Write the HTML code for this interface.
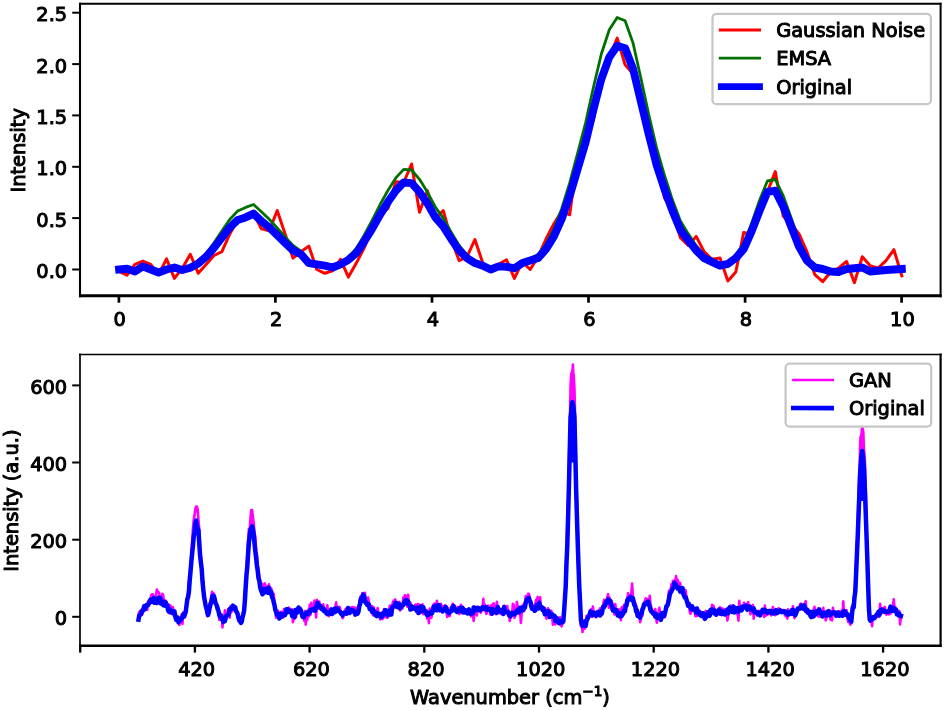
<!DOCTYPE html>
<html lang="en"><head><meta charset="utf-8"><title>Spectra augmentation figure</title>
<style>html,body{margin:0;padding:0;background:#fff;overflow:hidden}svg{display:block;filter:blur(0.45px)}text{font-family:"DejaVu Sans", "Liberation Sans", sans-serif;font-size:19.40px;fill:#000;stroke:#000;stroke-width:1.0px;paint-order:stroke}.sp{fill:none;stroke:#000;stroke-width:2.30}.tk{stroke:#000;stroke-width:2.20}.ln{fill:none;stroke-linejoin:round;stroke-linecap:square}.lg{fill:#fff;fill-opacity:0.8;stroke:#c6c6c6;stroke-width:2.2}</style></head><body>
<svg width="944" height="711" viewBox="0 0 944 711">
<rect x="0" y="0" width="944" height="711" fill="#fff"/>
<defs><clipPath id="c1"><rect x="80.0" y="3.8" width="860.6" height="292.0"/></clipPath><clipPath id="c2"><rect x="80.0" y="354.5" width="860.6" height="291.3"/></clipPath></defs>
<g clip-path="url(#c1)">
<polyline class="ln" stroke="#ff0000" stroke-width="3.0" points="119.1,271.5 127.0,275.1 134.9,264.4 142.8,261.1 150.7,264.4 158.6,274.6 166.5,258.8 174.4,278.4 182.3,268.2 190.3,254.2 198.2,273.3 206.1,264.4 214.0,255.5 221.9,251.7 229.8,233.9 237.7,219.9 245.6,217.4 253.5,213.6 261.4,228.8 269.3,230.8 277.2,210.5 285.1,233.9 293.0,258.1 300.9,251.7 308.8,246.1 316.8,269.5 324.7,273.3 332.6,270.8 340.5,259.3 348.4,277.1 356.3,263.1 364.2,247.9 372.1,228.8 380.0,214.8 387.9,208.5 395.8,181.8 403.7,182.5 411.6,164.0 419.5,212.3 427.4,190.7 435.3,218.6 443.2,210.5 451.2,239.0 459.1,260.6 467.0,256.8 474.9,239.5 482.8,263.1 490.7,269.5 498.6,264.4 506.5,259.8 514.4,278.4 522.3,261.9 530.2,269.5 538.1,256.8 546.0,239.0 553.9,223.7 561.8,211.0 569.7,214.8 577.6,155.1 585.6,142.4 593.5,119.5 601.4,78.8 609.3,57.2 617.2,38.1 625.1,64.8 633.0,73.7 640.9,101.7 648.8,134.7 656.7,165.3 664.6,198.3 672.5,211.0 680.4,237.7 688.3,245.3 696.2,236.4 704.1,251.7 712.0,259.3 720.0,258.1 727.9,280.9 735.8,272.0 743.7,232.6 751.6,233.9 759.5,211.0 767.4,191.9 775.3,171.6 783.2,216.1 791.1,223.7 799.0,233.9 806.9,251.7 814.8,274.6 822.7,281.7 830.6,272.0 838.5,268.2 846.5,261.4 854.4,282.7 862.3,256.8 870.2,265.7 878.1,268.2 886.0,260.6 893.9,249.7 901.8,275.8"/>
<polyline class="ln" stroke="#007000" stroke-width="2.8" points="119.1,269.4 127.0,269.0 134.9,270.9 142.8,266.7 150.7,269.5 158.6,272.2 166.5,269.6 174.4,267.5 182.3,269.5 190.3,267.0 198.2,261.9 206.1,253.5 214.0,242.8 221.9,230.9 229.8,219.4 237.7,211.0 245.6,207.4 253.5,204.5 261.4,211.7 269.3,219.3 277.2,227.9 285.1,236.9 293.0,245.5 300.9,251.2 308.8,260.6 316.8,263.1 324.7,264.8 332.6,266.3 340.5,263.0 348.4,257.2 356.3,248.5 364.2,235.2 372.1,220.4 380.0,204.8 387.9,190.5 395.8,177.9 403.7,169.4 411.6,170.0 419.5,179.3 427.4,192.1 435.3,207.0 443.2,218.1 451.2,232.2 459.1,245.5 467.0,255.0 474.9,261.3 482.8,264.9 490.7,268.6 498.6,266.1 506.5,266.4 514.4,267.1 522.3,261.9 530.2,258.4 538.1,254.5 546.0,244.0 553.9,228.8 561.8,208.4 569.7,182.8 577.6,153.4 585.6,122.9 593.5,87.1 601.4,53.8 609.3,29.8 617.2,17.5 625.1,20.7 633.0,42.9 640.9,78.3 648.8,114.9 656.7,148.5 664.6,175.8 672.5,200.1 680.4,221.0 688.3,233.9 696.2,245.7 704.1,254.8 712.0,260.0 720.0,264.0 727.9,262.0 735.8,254.9 743.7,243.4 751.6,223.2 759.5,200.5 767.4,181.0 775.3,179.5 783.2,195.7 791.1,217.7 799.0,240.6 806.9,257.5 814.8,266.3 822.7,269.0 830.6,271.5 838.5,271.9 846.5,269.1 854.4,267.9 862.3,267.6 870.2,271.2 878.1,270.9 886.0,270.1 893.9,269.5 901.8,268.9"/>
<polyline class="ln" stroke="#0000ff" stroke-width="7.9" points="119.1,269.5 127.0,268.7 134.9,271.5 142.8,266.4 150.7,269.5 158.6,272.5 166.5,269.5 174.4,267.5 182.3,270.0 190.3,267.7 198.2,263.6 206.1,256.8 214.0,247.9 221.9,237.7 229.8,227.5 237.7,219.9 245.6,217.4 253.5,213.6 261.4,221.2 269.3,227.5 277.2,235.2 285.1,242.8 293.0,250.4 300.9,254.2 308.8,263.1 316.8,264.4 324.7,265.7 332.6,267.5 340.5,264.4 348.4,259.8 356.3,253.0 364.2,241.5 372.1,228.8 380.0,214.8 387.9,202.1 395.8,190.7 403.7,182.5 411.6,183.1 419.5,191.9 427.4,203.4 435.3,217.4 443.2,226.3 451.2,239.0 459.1,250.4 467.0,258.1 474.9,263.1 482.8,265.7 490.7,269.5 498.6,266.4 506.5,266.9 514.4,268.2 522.3,263.1 530.2,260.6 538.1,258.1 546.0,249.2 553.9,236.4 561.8,218.6 569.7,195.8 577.6,169.1 585.6,142.4 593.5,109.3 601.4,78.8 609.3,57.2 617.2,45.8 625.1,48.3 633.0,68.6 640.9,101.7 648.8,134.7 656.7,165.3 664.6,189.4 672.5,211.0 680.4,230.1 688.3,240.3 696.2,250.4 704.1,258.1 712.0,261.9 720.0,265.7 727.9,263.9 735.8,258.1 743.7,249.2 751.6,231.4 759.5,211.0 767.4,191.9 775.3,190.7 783.2,206.4 791.1,226.3 799.0,246.6 806.9,260.6 814.8,267.5 822.7,269.0 830.6,271.5 838.5,272.0 846.5,269.0 854.4,268.2 862.3,267.5 870.2,271.5 878.1,270.8 886.0,270.0 893.9,269.5 901.8,269.0"/>
</g>
<line class="tk" style="stroke-width:2.7" x1="118.9" y1="295.8" x2="118.9" y2="302.7"/>
<text x="119.7" y="325.6" text-anchor="middle">0</text>
<line class="tk" style="stroke-width:2.7" x1="275.4" y1="295.8" x2="275.4" y2="302.7"/>
<text x="276.2" y="325.6" text-anchor="middle">2</text>
<line class="tk" style="stroke-width:2.7" x1="432.0" y1="295.8" x2="432.0" y2="302.7"/>
<text x="432.8" y="325.6" text-anchor="middle">4</text>
<line class="tk" style="stroke-width:2.7" x1="588.5" y1="295.8" x2="588.5" y2="302.7"/>
<text x="589.3" y="325.6" text-anchor="middle">6</text>
<line class="tk" style="stroke-width:2.7" x1="745.1" y1="295.8" x2="745.1" y2="302.7"/>
<text x="745.9" y="325.6" text-anchor="middle">8</text>
<line class="tk" style="stroke-width:2.7" x1="901.6" y1="295.8" x2="901.6" y2="302.7"/>
<text x="902.4" y="325.6" text-anchor="middle">10</text>
<line class="tk" style="stroke-width:2.0" x1="72.2" y1="269.5" x2="80.0" y2="269.5"/>
<text x="67.2" y="278.1" text-anchor="end">0.0</text>
<line class="tk" style="stroke-width:2.0" x1="72.2" y1="218.1" x2="80.0" y2="218.1"/>
<text x="67.2" y="226.7" text-anchor="end">0.5</text>
<line class="tk" style="stroke-width:2.0" x1="72.2" y1="166.8" x2="80.0" y2="166.8"/>
<text x="67.2" y="175.4" text-anchor="end">1.0</text>
<line class="tk" style="stroke-width:2.0" x1="72.2" y1="115.4" x2="80.0" y2="115.4"/>
<text x="67.2" y="124.0" text-anchor="end">1.5</text>
<line class="tk" style="stroke-width:2.0" x1="72.2" y1="64.1" x2="80.0" y2="64.1"/>
<text x="67.2" y="72.7" text-anchor="end">2.0</text>
<line class="tk" style="stroke-width:2.0" x1="72.2" y1="12.7" x2="80.0" y2="12.7"/>
<text x="67.2" y="21.3" text-anchor="end">2.5</text>
<line stroke="#000" stroke-width="2.1" x1="80.0" y1="2.8" x2="80.0" y2="297.2"/>
<line stroke="#000" stroke-width="2.0" x1="940.6" y1="2.8" x2="940.6" y2="297.2"/>
<line stroke="#000" stroke-width="2.1" x1="79.0" y1="3.8" x2="941.6" y2="3.8"/>
<line stroke="#000" stroke-width="2.9" x1="79.0" y1="295.8" x2="941.6" y2="295.8"/>
<text transform="translate(25.3,150.3) rotate(-90)" text-anchor="middle">Intensity</text>
<rect class="lg" x="712.5" y="13.8" width="218.4" height="90.4" rx="4" ry="4"/>
<line x1="718.8" y1="30.1" x2="761" y2="30.1" stroke="#ff0000" stroke-width="3.0"/>
<line x1="718.8" y1="58.2" x2="761" y2="58.2" stroke="#007000" stroke-width="2.8"/>
<line x1="717.9" y1="86.6" x2="762.9" y2="86.6" stroke="#0000ff" stroke-width="6.6"/>
<text x="776.2" y="37.2">Gaussian Noise</text>
<text x="776.2" y="65.4">EMSA</text>
<text x="776.2" y="93.6">Original</text>
<g clip-path="url(#c2)">
<polygon fill="#ff00ff" points="569.5,439.7 570.1,409.6 570.6,387.9 571.7,375.0 572.5,370.2 573.3,375.0 574.4,387.9 574.9,409.6 575.5,439.7"/>
<polygon fill="#ff00ff" points="193.7,520.1 194.5,515.6 195.3,509.4 196.1,506.5 196.9,506.5 197.7,509.6"/>
<polygon fill="#ff00ff" points="249.7,529.8 250.5,518.0 251.3,510.0 252.1,510.1 252.9,517.2 253.7,523.2"/>
<polygon fill="#ff00ff" points="859.1,483.7 859.6,468.2 860.5,444.7 861.5,430.5 862.2,426.1 862.9,430.5 863.9,444.7 864.8,468.2 865.3,483.7"/>
<polyline class="ln" stroke="#ff00ff" stroke-width="2.6" points="138.5,614.6 139.3,612.1 140.1,610.9 140.9,612.7 141.7,609.6 142.5,614.2 143.3,606.9 144.1,605.4 144.9,607.5 145.7,609.3 146.5,604.3 147.3,609.9 148.1,601.1 148.9,600.3 149.7,603.5 150.5,599.3 151.3,595.0 152.1,594.4 152.9,594.4 153.7,598.1 154.5,598.6 155.3,598.7 156.1,595.4 156.9,589.5 157.7,592.5 158.5,592.1 159.3,593.6 160.1,604.0 160.9,600.0 161.7,601.4 162.5,593.7 163.3,595.8 164.1,604.2 164.9,602.7 165.7,600.7 166.5,606.3 167.3,607.7 168.1,608.8 168.9,604.6 169.7,613.5 170.5,605.6 171.3,609.8 172.1,608.8 172.9,607.1 173.7,615.3 174.5,616.7 175.3,613.7 176.1,619.7 176.9,619.9 177.7,619.0 178.5,619.3 179.3,625.0 180.1,622.4 180.9,618.0 181.7,614.4 182.5,624.0 183.3,612.2 184.1,612.4 184.9,617.4 185.7,614.0 186.5,603.1 187.3,601.2 188.1,593.4 188.9,581.8 189.7,577.3 190.5,565.3 191.3,554.0 192.1,542.4 192.9,529.3 193.7,520.1 194.5,515.6 195.3,509.4 196.1,506.5 196.9,506.5 197.7,509.6 198.5,520.7 199.3,529.5 200.1,546.4 200.9,555.7 201.7,568.8 202.5,575.9 203.3,583.3 204.1,597.8 204.9,603.5 205.7,604.7 206.5,612.4 207.3,616.3 208.1,615.1 208.9,613.3 209.7,602.9 210.5,604.6 211.3,595.6 212.1,591.8 212.9,596.1 213.7,593.4 214.5,596.5 215.3,600.1 216.1,601.5 216.9,605.4 217.7,606.5 218.5,608.2 219.3,620.0 220.1,617.6 220.9,616.0 221.7,614.7 222.5,627.4 223.3,616.1 224.1,620.7 224.9,610.3 225.7,618.9 226.5,618.9 227.3,614.5 228.1,609.3 228.9,611.5 229.7,617.7 230.5,606.2 231.3,612.5 232.1,609.3 232.9,608.7 233.7,610.0 234.5,609.9 235.3,610.8 236.1,611.3 236.9,611.3 237.7,615.0 238.5,621.5 239.3,620.1 240.1,617.8 240.9,619.1 241.7,621.8 242.5,616.5 243.3,611.9 244.1,606.2 244.9,591.8 245.7,585.1 246.5,572.1 247.3,553.5 248.1,540.7 248.9,528.7 249.7,529.8 250.5,518.0 251.3,510.0 252.1,510.1 252.9,517.2 253.7,523.2 254.5,532.6 255.3,536.6 256.1,550.2 256.9,554.1 257.7,564.0 258.5,570.8 259.3,576.2 260.1,581.9 260.9,587.7 261.7,583.6 262.5,585.2 263.3,587.9 264.1,584.3 264.9,583.4 265.7,590.2 266.5,586.6 267.3,587.0 268.1,590.4 268.9,584.4 269.7,589.4 270.5,589.3 271.3,588.4 272.1,592.1 272.9,596.3 273.7,593.9 274.5,606.5 275.3,607.0 276.1,617.6 276.9,611.1 277.7,610.7 278.5,612.3 279.3,619.0 280.1,617.3 280.9,611.8 281.7,615.7 282.5,611.8 283.3,617.4 284.1,609.0 284.9,609.4 285.7,610.5 286.5,613.9 287.3,611.1 288.1,609.3 288.9,607.7 289.7,609.0 290.5,610.6 291.3,611.2 292.1,609.2 292.9,622.2 293.7,619.1 294.5,618.6 295.3,614.7 296.1,617.1 296.9,608.7 297.7,609.4 298.5,609.8 299.3,610.7 300.1,609.6 300.9,611.3 301.7,612.6 302.5,617.8 303.3,614.3 304.1,620.6 304.9,611.0 305.7,624.6 306.5,615.8 307.3,619.9 308.1,609.8 308.9,616.4 309.7,604.8 310.5,615.0 311.3,602.8 312.1,607.5 312.9,608.5 313.7,606.7 314.5,600.5 315.3,603.5 316.1,617.5 316.9,599.9 317.7,601.8 318.5,608.5 319.3,601.6 320.1,609.0 320.9,605.4 321.7,605.8 322.5,609.3 323.3,604.2 324.1,611.8 324.9,608.5 325.7,611.7 326.5,611.3 327.3,605.2 328.1,612.0 328.9,616.1 329.7,612.6 330.5,614.5 331.3,611.5 332.1,610.8 332.9,610.3 333.7,609.9 334.5,611.3 335.3,607.4 336.1,602.4 336.9,610.9 337.7,609.7 338.5,609.9 339.3,606.7 340.1,607.9 340.9,614.4 341.7,612.2 342.5,618.2 343.3,617.0 344.1,613.7 344.9,610.8 345.7,608.8 346.5,612.7 347.3,614.5 348.1,608.5 348.9,610.3 349.7,608.4 350.5,609.2 351.3,607.4 352.1,607.6 352.9,607.0 353.7,611.3 354.5,607.4 355.3,613.4 356.1,612.4 356.9,607.8 357.7,610.8 358.5,612.7 359.3,600.9 360.1,599.4 360.9,596.1 361.7,596.4 362.5,593.1 363.3,595.4 364.1,598.5 364.9,592.7 365.7,600.5 366.5,602.3 367.3,603.6 368.1,597.5 368.9,602.1 369.7,607.3 370.5,607.1 371.3,606.3 372.1,606.0 372.9,615.1 373.7,607.4 374.5,611.7 375.3,613.9 376.1,613.5 376.9,610.4 377.7,608.1 378.5,614.3 379.3,613.9 380.1,619.4 380.9,615.0 381.7,612.6 382.5,619.0 383.3,614.5 384.1,609.0 384.9,617.2 385.7,613.0 386.5,610.1 387.3,617.9 388.1,614.0 388.9,611.7 389.7,605.9 390.5,614.2 391.3,605.4 392.1,606.9 392.9,602.2 393.7,600.5 394.5,601.5 395.3,599.4 396.1,607.8 396.9,607.7 397.7,607.7 398.5,606.4 399.3,601.9 400.1,610.5 400.9,605.4 401.7,608.3 402.5,608.5 403.3,597.6 404.1,601.2 404.9,595.2 405.7,595.8 406.5,603.0 407.3,606.8 408.1,594.7 408.9,603.6 409.7,610.0 410.5,602.8 411.3,606.1 412.1,610.1 412.9,609.2 413.7,607.2 414.5,607.2 415.3,604.6 416.1,608.0 416.9,608.2 417.7,604.1 418.5,606.7 419.3,604.5 420.1,609.2 420.9,609.0 421.7,612.8 422.5,604.4 423.3,614.2 424.1,609.5 424.9,613.9 425.7,610.7 426.5,610.1 427.3,618.7 428.1,614.2 428.9,623.1 429.7,608.5 430.5,614.4 431.3,617.9 432.1,613.9 432.9,606.0 433.7,604.2 434.5,603.7 435.3,609.3 436.1,606.9 436.9,600.7 437.7,608.1 438.5,606.4 439.3,611.4 440.1,610.7 440.9,603.7 441.7,606.3 442.5,606.4 443.3,606.2 444.1,606.5 444.9,605.4 445.7,610.8 446.5,612.1 447.3,617.0 448.1,608.0 448.9,614.6 449.7,616.0 450.5,610.9 451.3,608.9 452.1,605.2 452.9,603.6 453.7,609.5 454.5,610.0 455.3,608.8 456.1,612.0 456.9,608.7 457.7,606.9 458.5,608.4 459.3,614.0 460.1,612.7 460.9,604.7 461.7,612.5 462.5,606.9 463.3,607.4 464.1,610.8 464.9,613.1 465.7,609.4 466.5,613.2 467.3,611.0 468.1,610.3 468.9,613.4 469.7,612.2 470.5,612.9 471.3,616.4 472.1,613.3 472.9,613.8 473.7,621.0 474.5,611.0 475.3,609.9 476.1,611.8 476.9,615.5 477.7,606.5 478.5,607.1 479.3,607.5 480.1,608.3 480.9,612.6 481.7,607.3 482.5,609.9 483.3,598.9 484.1,607.9 484.9,604.4 485.7,612.0 486.5,613.9 487.3,609.5 488.1,605.6 488.9,606.4 489.7,607.5 490.5,614.8 491.3,605.2 492.1,612.1 492.9,604.0 493.7,603.4 494.5,607.0 495.3,606.6 496.1,614.2 496.9,601.8 497.7,609.7 498.5,607.3 499.3,613.3 500.1,610.5 500.9,614.0 501.7,610.7 502.5,609.7 503.3,609.2 504.1,605.8 504.9,609.1 505.7,610.2 506.5,611.3 507.3,606.0 508.1,615.6 508.9,610.9 509.7,621.0 510.5,617.2 511.3,612.7 512.1,614.3 512.9,603.7 513.7,604.7 514.5,617.8 515.3,615.9 516.1,612.5 516.9,601.8 517.7,607.0 518.5,608.9 519.3,613.9 520.1,611.3 520.9,623.0 521.7,612.8 522.5,606.0 523.3,604.5 524.1,611.1 524.9,603.8 525.7,596.1 526.5,598.1 527.3,598.0 528.1,593.9 528.9,593.8 529.7,597.8 530.5,602.4 531.3,604.6 532.1,605.2 532.9,609.6 533.7,605.2 534.5,605.6 535.3,603.8 536.1,599.7 536.9,600.1 537.7,596.9 538.5,603.1 539.3,604.5 540.1,597.2 540.9,608.0 541.7,608.9 542.5,610.8 543.3,608.4 544.1,608.9 544.9,608.1 545.7,613.4 546.5,618.7 547.3,612.3 548.1,608.2 548.9,613.8 549.7,614.7 550.5,613.1 551.3,610.8 552.1,616.4 552.9,624.7 553.7,619.2 554.5,618.6 555.3,624.5 556.1,616.7 556.9,622.4 557.7,618.8 558.5,620.5 559.3,622.8 560.1,617.0 560.9,624.8 561.7,626.4 562.5,621.3 563.3,619.0 564.1,612.1 564.9,601.3 565.7,579.1 566.5,554.4 567.3,524.6 568.1,501.8 568.9,466.5 569.7,428.6 570.1,411.4 570.6,384.2 571.3,373.6 571.7,374.8 572.1,371.2 572.5,370.3 572.9,364.6 573.3,373.5 573.7,374.5 574.4,387.3 574.9,406.3 575.3,428.8 576.1,474.9 576.9,500.3 577.7,529.7 578.5,563.2 579.3,581.9 580.1,605.0 580.9,626.0 581.7,625.5 582.5,632.0 583.3,623.9 584.1,621.1 584.9,628.8 585.7,623.0 586.5,615.8 587.3,617.7 588.1,617.9 588.9,617.4 589.7,612.2 590.5,611.5 591.3,609.1 592.1,616.9 592.9,606.6 593.7,614.7 594.5,611.4 595.3,615.7 596.1,617.4 596.9,616.1 597.7,615.9 598.5,613.7 599.3,610.0 600.1,608.3 600.9,610.9 601.7,612.7 602.5,609.9 603.3,604.0 604.1,599.7 604.9,602.0 605.7,600.3 606.5,601.3 607.3,597.2 608.1,594.1 608.9,607.7 609.7,597.8 610.5,602.0 611.3,609.3 612.1,602.8 612.9,606.2 613.7,606.9 614.5,614.5 615.3,604.1 616.1,611.8 616.9,614.3 617.7,609.2 618.5,612.5 619.3,609.5 620.1,609.9 620.9,620.1 621.7,607.4 622.5,613.9 623.3,610.0 624.1,604.7 624.9,611.1 625.7,605.2 626.5,600.0 627.3,598.9 628.1,593.4 628.9,600.6 629.7,598.5 630.5,597.6 631.3,593.1 632.1,583.6 632.9,596.6 633.7,599.5 634.5,602.4 635.3,602.7 636.1,607.3 636.9,615.7 637.7,609.9 638.5,614.6 639.3,613.2 640.1,622.2 640.9,618.8 641.7,609.7 642.5,615.6 643.3,605.2 644.1,603.5 644.9,601.3 645.7,598.3 646.5,599.1 647.3,598.9 648.1,602.2 648.9,603.2 649.7,595.8 650.5,604.0 651.3,607.9 652.1,609.5 652.9,614.1 653.7,612.0 654.5,614.4 655.3,609.1 656.1,617.6 656.9,622.7 657.7,617.1 658.5,613.3 659.3,607.9 660.1,613.1 660.9,620.1 661.7,617.9 662.5,618.5 663.3,614.8 664.1,615.9 664.9,617.1 665.7,607.9 666.5,605.8 667.3,604.2 668.1,599.6 668.9,590.9 669.7,593.7 670.5,591.8 671.3,584.2 672.1,590.3 672.9,580.9 673.7,584.4 674.5,583.0 675.3,580.4 676.1,576.0 676.9,584.7 677.7,579.8 678.5,582.6 679.3,589.3 680.1,582.7 680.9,589.3 681.7,592.4 682.5,591.3 683.3,593.9 684.1,589.1 684.9,594.9 685.7,590.4 686.5,597.4 687.3,603.3 688.1,607.0 688.9,603.0 689.7,611.9 690.5,613.8 691.3,610.0 692.1,605.3 692.9,607.1 693.7,607.9 694.5,609.1 695.3,616.1 696.1,610.7 696.9,616.0 697.7,608.1 698.5,611.4 699.3,612.2 700.1,611.1 700.9,611.9 701.7,612.6 702.5,612.7 703.3,616.2 704.1,619.1 704.9,613.3 705.7,610.9 706.5,611.9 707.3,615.3 708.1,611.9 708.9,614.8 709.7,611.4 710.5,614.3 711.3,611.4 712.1,604.8 712.9,608.4 713.7,605.9 714.5,613.7 715.3,613.9 716.1,612.2 716.9,610.7 717.7,613.7 718.5,608.9 719.3,613.8 720.1,607.2 720.9,608.2 721.7,615.1 722.5,608.5 723.3,612.8 724.1,609.1 724.9,614.5 725.7,611.3 726.5,610.1 727.3,620.5 728.1,617.2 728.9,610.1 729.7,610.1 730.5,605.5 731.3,607.3 732.1,611.4 732.9,605.2 733.7,609.9 734.5,608.6 735.3,610.0 736.1,607.6 736.9,613.4 737.7,614.7 738.5,620.6 739.3,600.9 740.1,611.0 740.9,610.0 741.7,610.3 742.5,608.0 743.3,606.7 744.1,602.8 744.9,604.4 745.7,604.2 746.5,608.8 747.3,606.0 748.1,602.1 748.9,606.7 749.7,606.1 750.5,614.3 751.3,606.4 752.1,607.7 752.9,604.9 753.7,618.6 754.5,610.0 755.3,611.0 756.1,610.9 756.9,613.9 757.7,611.8 758.5,610.8 759.3,613.5 760.1,614.1 760.9,613.3 761.7,613.4 762.5,611.5 763.3,613.5 764.1,617.0 764.9,605.5 765.7,615.8 766.5,610.9 767.3,614.7 768.1,611.5 768.9,613.9 769.7,611.0 770.5,613.8 771.3,615.4 772.1,610.2 772.9,607.0 773.7,610.4 774.5,611.3 775.3,615.2 776.1,612.2 776.9,610.4 777.7,613.7 778.5,608.4 779.3,611.2 780.1,609.0 780.9,612.5 781.7,612.6 782.5,610.4 783.3,610.0 784.1,610.3 784.9,615.0 785.7,616.2 786.5,612.4 787.3,618.7 788.1,609.4 788.9,611.6 789.7,612.3 790.5,614.6 791.3,609.4 792.1,613.1 792.9,606.3 793.7,611.6 794.5,618.2 795.3,611.3 796.1,614.5 796.9,613.1 797.7,610.8 798.5,609.0 799.3,606.9 800.1,604.3 800.9,603.6 801.7,607.5 802.5,609.6 803.3,608.1 804.1,604.5 804.9,603.2 805.7,601.1 806.5,612.8 807.3,609.5 808.1,611.9 808.9,613.3 809.7,612.1 810.5,614.0 811.3,614.7 812.1,616.5 812.9,612.3 813.7,609.4 814.5,606.8 815.3,613.1 816.1,614.4 816.9,612.0 817.7,616.2 818.5,608.3 819.3,616.6 820.1,611.9 820.9,616.7 821.7,613.7 822.5,612.1 823.3,607.9 824.1,615.3 824.9,612.0 825.7,620.3 826.5,617.6 827.3,616.5 828.1,615.6 828.9,612.7 829.7,612.1 830.5,619.6 831.3,611.5 832.1,620.4 832.9,607.7 833.7,612.4 834.5,612.6 835.3,613.6 836.1,613.5 836.9,613.4 837.7,615.8 838.5,611.3 839.3,612.3 840.1,611.1 840.9,613.5 841.7,610.9 842.5,615.4 843.3,601.4 844.1,615.6 844.9,614.9 845.7,610.5 846.5,610.0 847.3,617.7 848.1,621.7 848.9,621.9 849.7,622.9 850.5,624.6 851.3,621.0 852.1,610.8 852.9,604.2 853.7,603.4 854.5,593.2 855.3,583.8 856.1,563.5 856.9,546.2 857.7,525.2 858.5,496.6 859.3,470.4 859.6,468.2 860.1,446.9 860.5,437.0 860.9,437.8 861.5,433.4 862.2,427.0 862.9,429.5 863.3,432.3 863.9,448.2 864.8,458.5 865.7,488.1 866.5,524.2 867.3,555.5 868.1,578.3 868.9,601.4 869.7,613.3 870.5,619.8 871.3,621.0 872.1,626.3 872.9,616.7 873.7,616.2 874.5,618.8 875.3,615.6 876.1,614.5 876.9,614.6 877.7,617.0 878.5,611.5 879.3,616.6 880.1,603.7 880.9,613.7 881.7,608.7 882.5,612.2 883.3,608.0 884.1,609.5 884.9,606.9 885.7,613.6 886.5,614.6 887.3,610.5 888.1,611.1 888.9,614.5 889.7,611.2 890.5,613.8 891.3,607.3 892.1,608.3 892.9,607.4 893.7,599.3 894.5,607.7 895.3,607.5 896.1,607.9 896.9,611.8 897.7,614.5 898.5,611.0 899.3,611.0 900.1,624.5 900.9,616.0"/>
<polygon fill="#0000ff" points="569.5,462.5 570.1,436.3 570.6,417.4 571.7,406.2 572.5,402.0 573.3,406.2 574.4,417.4 574.9,436.3 575.5,462.5"/>
<polygon fill="#0000ff" points="194.5,532.9 195.3,523.5 196.1,520.5 196.9,525.4"/>
<polygon fill="#0000ff" points="250.5,530.3 251.3,527.9 252.1,526.4 252.9,529.7"/>
<polygon fill="#0000ff" points="859.1,501.1 859.6,487.6 860.5,467.1 861.5,454.8 862.2,450.9 862.9,454.8 863.9,467.1 864.8,487.6 865.3,501.1"/>
<polyline class="ln" stroke="#0000ff" stroke-width="4.5" points="138.5,619.7 139.3,615.3 140.1,615.0 140.9,614.4 141.7,611.3 142.5,611.3 143.3,610.1 144.1,606.2 144.9,609.3 145.7,607.6 146.5,604.9 147.3,604.8 148.1,605.1 148.9,603.1 149.7,602.3 150.5,599.6 151.3,601.9 152.1,600.7 152.9,600.9 153.7,598.0 154.5,602.8 155.3,600.4 156.1,599.5 156.9,603.1 157.7,599.8 158.5,597.8 159.3,600.0 160.1,597.7 160.9,603.4 161.7,601.8 162.5,601.8 163.3,605.2 164.1,601.6 164.9,605.6 165.7,602.4 166.5,605.4 167.3,605.3 168.1,610.3 168.9,611.6 169.7,609.1 170.5,611.7 171.3,610.9 172.1,612.9 172.9,611.6 173.7,611.0 174.5,611.6 175.3,616.0 176.1,619.9 176.9,617.8 177.7,617.6 178.5,622.3 179.3,620.7 180.1,620.6 180.9,619.9 181.7,618.3 182.5,617.0 183.3,614.3 184.1,616.3 184.9,614.1 185.7,612.1 186.5,605.7 187.3,599.3 188.1,597.0 188.9,591.8 189.7,580.5 190.5,571.7 191.3,562.4 192.1,553.8 192.9,546.2 193.7,536.8 194.5,532.9 195.3,523.5 196.1,520.5 196.9,525.4 197.7,528.3 198.5,530.9 199.3,544.6 200.1,555.4 200.9,562.7 201.7,569.1 202.5,581.3 203.3,589.6 204.1,596.9 204.9,601.4 205.7,605.9 206.5,608.6 207.3,612.4 208.1,615.0 208.9,612.2 209.7,607.7 210.5,604.4 211.3,601.8 212.1,597.9 212.9,595.5 213.7,595.8 214.5,598.0 215.3,602.8 216.1,604.1 216.9,605.8 217.7,609.2 218.5,611.0 219.3,614.9 220.1,616.9 220.9,615.3 221.7,619.1 222.5,618.2 223.3,622.0 224.1,619.9 224.9,621.2 225.7,616.7 226.5,615.8 227.3,615.4 228.1,615.3 228.9,613.2 229.7,609.1 230.5,609.9 231.3,608.6 232.1,606.9 232.9,605.6 233.7,608.5 234.5,606.7 235.3,607.6 236.1,611.4 236.9,612.1 237.7,614.2 238.5,617.9 239.3,619.8 240.1,621.0 240.9,622.9 241.7,621.9 242.5,617.3 243.3,614.5 244.1,610.8 244.9,600.5 245.7,587.0 246.5,574.8 247.3,566.8 248.1,553.8 248.9,542.5 249.7,536.1 250.5,530.3 251.3,527.9 252.1,526.4 252.9,529.7 253.7,534.7 254.5,543.3 255.3,551.2 256.1,557.5 256.9,565.5 257.7,570.7 258.5,578.3 259.3,580.5 260.1,586.8 260.9,589.8 261.7,592.0 262.5,594.3 263.3,588.9 264.1,592.2 264.9,592.5 265.7,591.9 266.5,588.7 267.3,590.6 268.1,592.7 268.9,587.6 269.7,591.7 270.5,593.7 271.3,592.0 272.1,597.5 272.9,598.4 273.7,602.1 274.5,605.2 275.3,609.9 276.1,611.6 276.9,614.8 277.7,613.4 278.5,616.1 279.3,618.4 280.1,617.3 280.9,614.0 281.7,616.7 282.5,614.5 283.3,615.2 284.1,614.4 284.9,615.2 285.7,612.9 286.5,609.2 287.3,609.3 288.1,612.0 288.9,609.8 289.7,611.4 290.5,611.3 291.3,611.4 292.1,615.9 292.9,614.6 293.7,611.7 294.5,617.2 295.3,610.1 296.1,613.2 296.9,612.8 297.7,610.9 298.5,607.5 299.3,611.2 300.1,608.9 300.9,610.5 301.7,613.5 302.5,616.8 303.3,616.9 304.1,617.2 304.9,614.7 305.7,614.6 306.5,612.5 307.3,613.2 308.1,613.9 308.9,611.8 309.7,612.3 310.5,610.0 311.3,609.6 312.1,610.2 312.9,609.4 313.7,610.3 314.5,609.2 315.3,610.6 316.1,606.4 316.9,605.3 317.7,602.9 318.5,605.1 319.3,607.0 320.1,605.6 320.9,607.4 321.7,609.1 322.5,608.4 323.3,608.3 324.1,611.1 324.9,610.4 325.7,611.5 326.5,613.4 327.3,614.1 328.1,612.4 328.9,612.3 329.7,613.3 330.5,612.4 331.3,609.4 332.1,614.1 332.9,611.7 333.7,612.2 334.5,608.7 335.3,612.0 336.1,608.6 336.9,609.9 337.7,608.4 338.5,610.8 339.3,611.3 340.1,611.9 340.9,613.4 341.7,613.3 342.5,615.3 343.3,613.6 344.1,612.7 344.9,613.4 345.7,613.6 346.5,613.7 347.3,612.3 348.1,608.0 348.9,611.3 349.7,613.0 350.5,610.9 351.3,610.0 352.1,611.2 352.9,610.0 353.7,611.8 354.5,611.5 355.3,614.6 356.1,614.2 356.9,613.2 357.7,613.6 358.5,611.4 359.3,606.4 360.1,604.0 360.9,598.6 361.7,601.2 362.5,596.5 363.3,594.5 364.1,596.4 364.9,600.1 365.7,602.9 366.5,602.9 367.3,605.0 368.1,603.8 368.9,604.6 369.7,609.0 370.5,609.1 371.3,609.1 372.1,612.0 372.9,609.3 373.7,610.7 374.5,613.4 375.3,615.2 376.1,612.9 376.9,616.1 377.7,613.4 378.5,615.6 379.3,615.6 380.1,614.2 380.9,617.0 381.7,617.0 382.5,614.2 383.3,613.3 384.1,614.5 384.9,610.3 385.7,610.2 386.5,611.7 387.3,611.2 388.1,615.4 388.9,613.0 389.7,610.4 390.5,610.0 391.3,614.6 392.1,608.3 392.9,606.5 393.7,606.6 394.5,605.6 395.3,603.5 396.1,602.8 396.9,603.4 397.7,607.1 398.5,606.8 399.3,604.1 400.1,608.2 400.9,607.3 401.7,605.4 402.5,604.9 403.3,604.9 404.1,602.6 404.9,600.8 405.7,602.6 406.5,600.1 407.3,603.6 408.1,601.4 408.9,604.2 409.7,605.3 410.5,609.5 411.3,606.3 412.1,607.0 412.9,608.3 413.7,607.3 414.5,607.8 415.3,609.1 416.1,609.4 416.9,611.1 417.7,607.6 418.5,613.1 419.3,612.4 420.1,609.2 420.9,606.3 421.7,610.0 422.5,610.5 423.3,607.1 424.1,611.2 424.9,611.5 425.7,611.3 426.5,614.1 427.3,615.4 428.1,613.2 428.9,614.2 429.7,612.6 430.5,612.3 431.3,613.4 432.1,613.1 432.9,610.4 433.7,606.7 434.5,610.0 435.3,605.7 436.1,608.1 436.9,610.3 437.7,607.2 438.5,605.1 439.3,605.4 440.1,610.1 440.9,608.9 441.7,610.4 442.5,611.4 443.3,610.4 444.1,610.4 444.9,609.8 445.7,606.8 446.5,609.5 447.3,611.9 448.1,612.0 448.9,613.1 449.7,611.7 450.5,611.3 451.3,611.3 452.1,607.8 452.9,607.9 453.7,606.0 454.5,610.2 455.3,609.1 456.1,610.0 456.9,611.9 457.7,611.3 458.5,609.6 459.3,611.0 460.1,607.7 460.9,610.7 461.7,610.4 462.5,607.9 463.3,612.6 464.1,609.6 464.9,611.9 465.7,610.4 466.5,612.7 467.3,613.4 468.1,610.2 468.9,609.5 469.7,612.0 470.5,613.9 471.3,612.4 472.1,612.3 472.9,613.2 473.7,607.4 474.5,609.8 475.3,607.9 476.1,610.0 476.9,608.7 477.7,608.4 478.5,609.8 479.3,608.4 480.1,610.4 480.9,608.6 481.7,608.4 482.5,607.2 483.3,609.0 484.1,607.5 484.9,608.8 485.7,609.1 486.5,607.4 487.3,609.9 488.1,609.7 488.9,609.9 489.7,609.0 490.5,609.2 491.3,611.3 492.1,613.6 492.9,609.1 493.7,611.3 494.5,610.1 495.3,612.1 496.1,611.7 496.9,612.8 497.7,607.0 498.5,610.5 499.3,609.9 500.1,611.1 500.9,610.0 501.7,609.9 502.5,611.8 503.3,614.0 504.1,606.9 504.9,611.1 505.7,612.3 506.5,612.2 507.3,612.6 508.1,612.0 508.9,613.6 509.7,616.0 510.5,616.3 511.3,614.6 512.1,612.9 512.9,614.1 513.7,613.3 514.5,614.2 515.3,613.2 516.1,611.7 516.9,612.5 517.7,609.8 518.5,612.2 519.3,612.2 520.1,607.9 520.9,610.0 521.7,607.5 522.5,610.4 523.3,609.9 524.1,607.9 524.9,607.5 525.7,602.9 526.5,600.2 527.3,599.0 528.1,598.6 528.9,598.0 529.7,601.0 530.5,602.0 531.3,606.3 532.1,608.7 532.9,608.3 533.7,608.4 534.5,610.8 535.3,610.5 536.1,607.6 536.9,604.9 537.7,606.9 538.5,608.5 539.3,602.8 540.1,607.2 540.9,606.9 541.7,607.0 542.5,610.0 543.3,608.2 544.1,611.7 544.9,614.3 545.7,613.5 546.5,612.2 547.3,611.1 548.1,612.1 548.9,611.5 549.7,617.1 550.5,614.8 551.3,614.1 552.1,614.2 552.9,615.1 553.7,616.8 554.5,615.9 555.3,621.0 556.1,617.8 556.9,618.2 557.7,620.5 558.5,622.8 559.3,623.1 560.1,620.8 560.9,622.5 561.7,622.1 562.5,622.3 563.3,621.5 564.1,611.3 564.9,598.8 565.7,586.6 566.5,563.1 567.3,545.6 568.1,517.1 568.9,486.8 569.7,453.5 570.1,436.1 570.6,417.3 571.3,410.9 571.7,405.5 572.1,403.2 572.5,402.1 572.9,404.0 573.3,406.3 573.7,410.7 574.4,417.3 574.9,436.7 575.3,453.2 576.1,488.5 576.9,515.7 577.7,541.7 578.5,565.9 579.3,587.3 580.1,602.4 580.9,619.9 581.7,624.0 582.5,626.0 583.3,623.1 584.1,623.5 584.9,621.3 585.7,625.8 586.5,620.7 587.3,619.3 588.1,617.3 588.9,616.2 589.7,614.3 590.5,611.3 591.3,613.2 592.1,612.7 592.9,615.2 593.7,612.7 594.5,613.1 595.3,614.8 596.1,615.6 596.9,613.7 597.7,612.2 598.5,612.9 599.3,612.0 600.1,615.5 600.9,613.7 601.7,613.8 602.5,610.1 603.3,606.6 604.1,607.1 604.9,605.7 605.7,603.2 606.5,601.4 607.3,602.2 608.1,599.4 608.9,602.0 609.7,600.6 610.5,601.1 611.3,604.7 612.1,606.2 612.9,610.4 613.7,608.9 614.5,611.0 615.3,610.1 616.1,609.9 616.9,610.9 617.7,615.3 618.5,613.1 619.3,616.3 620.1,616.4 620.9,613.4 621.7,616.0 622.5,613.0 623.3,613.5 624.1,610.5 624.9,611.4 625.7,606.2 626.5,605.5 627.3,600.6 628.1,598.9 628.9,599.4 629.7,598.0 630.5,597.0 631.3,598.7 632.1,600.1 632.9,598.1 633.7,602.4 634.5,605.3 635.3,606.3 636.1,611.3 636.9,610.6 637.7,616.0 638.5,614.5 639.3,615.9 640.1,617.7 640.9,613.9 641.7,613.3 642.5,609.1 643.3,607.9 644.1,604.2 644.9,603.6 645.7,603.5 646.5,602.7 647.3,604.1 648.1,601.5 648.9,603.7 649.7,606.3 650.5,609.9 651.3,611.4 652.1,611.7 652.9,613.4 653.7,613.0 654.5,614.0 655.3,616.7 656.1,614.0 656.9,615.5 657.7,618.0 658.5,615.9 659.3,617.2 660.1,615.6 660.9,619.9 661.7,613.2 662.5,613.8 663.3,612.9 664.1,616.0 664.9,612.9 665.7,610.0 666.5,606.0 667.3,606.0 668.1,603.2 668.9,599.2 669.7,595.0 670.5,592.6 671.3,591.6 672.1,589.9 672.9,588.2 673.7,586.6 674.5,582.7 675.3,586.0 676.1,584.9 676.9,587.2 677.7,588.5 678.5,587.5 679.3,587.7 680.1,591.6 680.9,591.4 681.7,590.7 682.5,588.1 683.3,593.6 684.1,595.7 684.9,597.7 685.7,597.3 686.5,599.8 687.3,602.5 688.1,605.7 688.9,603.8 689.7,606.7 690.5,606.6 691.3,608.9 692.1,606.3 692.9,609.6 693.7,608.5 694.5,609.2 695.3,610.9 696.1,612.4 696.9,608.5 697.7,613.2 698.5,613.0 699.3,612.2 700.1,615.2 700.9,613.8 701.7,615.9 702.5,613.4 703.3,613.3 704.1,616.9 704.9,618.8 705.7,616.8 706.5,616.8 707.3,614.1 708.1,612.3 708.9,613.5 709.7,615.6 710.5,610.0 711.3,611.8 712.1,609.2 712.9,612.0 713.7,613.0 714.5,610.1 715.3,611.7 716.1,614.8 716.9,613.0 717.7,611.2 718.5,610.9 719.3,609.5 720.1,613.6 720.9,610.9 721.7,613.9 722.5,613.8 723.3,611.7 724.1,612.2 724.9,614.5 725.7,613.2 726.5,613.0 727.3,609.6 728.1,613.2 728.9,610.0 729.7,607.2 730.5,609.0 731.3,610.0 732.1,611.9 732.9,607.8 733.7,606.7 734.5,612.4 735.3,609.8 736.1,609.5 736.9,608.2 737.7,608.1 738.5,611.7 739.3,608.8 740.1,608.2 740.9,607.7 741.7,610.4 742.5,606.5 743.3,607.9 744.1,606.9 744.9,607.1 745.7,605.5 746.5,608.1 747.3,609.8 748.1,607.5 748.9,606.6 749.7,606.5 750.5,609.2 751.3,608.9 752.1,609.6 752.9,610.2 753.7,608.3 754.5,612.2 755.3,611.8 756.1,611.9 756.9,612.9 757.7,614.5 758.5,613.7 759.3,612.7 760.1,615.4 760.9,612.5 761.7,611.6 762.5,609.9 763.3,611.9 764.1,609.7 764.9,610.0 765.7,611.6 766.5,611.1 767.3,612.8 768.1,611.9 768.9,610.9 769.7,611.1 770.5,611.0 771.3,612.9 772.1,612.0 772.9,611.4 773.7,613.5 774.5,612.4 775.3,611.7 776.1,610.2 776.9,613.1 777.7,612.6 778.5,612.1 779.3,611.1 780.1,610.3 780.9,611.3 781.7,612.1 782.5,611.6 783.3,611.7 784.1,611.3 784.9,612.8 785.7,612.9 786.5,611.7 787.3,614.3 788.1,614.5 788.9,614.4 789.7,612.7 790.5,612.5 791.3,610.8 792.1,613.9 792.9,609.7 793.7,612.7 794.5,613.1 795.3,615.3 796.1,613.2 796.9,610.5 797.7,608.6 798.5,608.5 799.3,609.0 800.1,608.2 800.9,607.0 801.7,605.5 802.5,606.3 803.3,608.4 804.1,605.4 804.9,607.4 805.7,610.7 806.5,610.3 807.3,609.9 808.1,612.9 808.9,611.3 809.7,613.0 810.5,616.0 811.3,617.0 812.1,611.9 812.9,615.0 813.7,616.3 814.5,611.8 815.3,612.4 816.1,613.9 816.9,611.0 817.7,612.7 818.5,612.1 819.3,609.5 820.1,613.2 820.9,612.5 821.7,614.4 822.5,616.4 823.3,614.3 824.1,612.9 824.9,614.3 825.7,614.1 826.5,615.5 827.3,611.8 828.1,612.4 828.9,611.1 829.7,615.3 830.5,614.5 831.3,613.5 832.1,613.1 832.9,613.1 833.7,612.3 834.5,613.0 835.3,612.6 836.1,615.7 836.9,614.2 837.7,612.6 838.5,613.1 839.3,615.8 840.1,614.5 840.9,614.1 841.7,614.6 842.5,615.8 843.3,611.6 844.1,612.5 844.9,611.1 845.7,614.7 846.5,613.6 847.3,614.1 848.1,615.0 848.9,618.2 849.7,618.9 850.5,620.3 851.3,621.7 852.1,612.7 852.9,606.9 853.7,607.4 854.5,597.3 855.3,591.6 856.1,573.7 856.9,555.4 857.7,537.1 858.5,516.7 859.3,495.5 859.6,487.5 860.1,475.5 860.5,467.3 860.9,462.9 861.5,455.3 862.2,450.9 862.9,455.2 863.3,459.6 863.9,467.1 864.8,487.0 865.7,512.3 866.5,535.3 867.3,558.5 868.1,584.3 868.9,607.5 869.7,619.4 870.5,620.7 871.3,618.5 872.1,618.2 872.9,617.3 873.7,618.5 874.5,618.1 875.3,616.6 876.1,615.5 876.9,614.3 877.7,613.3 878.5,611.8 879.3,615.1 880.1,613.5 880.9,610.0 881.7,609.6 882.5,609.7 883.3,610.2 884.1,611.7 884.9,611.2 885.7,611.5 886.5,611.8 887.3,612.1 888.1,611.8 888.9,611.1 889.7,609.7 890.5,606.6 891.3,608.6 892.1,611.0 892.9,607.7 893.7,607.9 894.5,610.8 895.3,609.8 896.1,610.0 896.9,614.3 897.7,613.9 898.5,615.2 899.3,613.7 900.1,615.8 900.9,616.0"/>
</g>
<line class="tk" style="stroke-width:2.3" x1="80.2" y1="645.8" x2="80.2" y2="652.6"/>
<line class="tk" style="stroke-width:2.3" x1="194.9" y1="645.8" x2="194.9" y2="652.6"/>
<text x="196.7" y="676" text-anchor="middle">420</text>
<line class="tk" style="stroke-width:2.3" x1="309.6" y1="645.8" x2="309.6" y2="652.6"/>
<text x="311.4" y="676" text-anchor="middle">620</text>
<line class="tk" style="stroke-width:2.3" x1="424.3" y1="645.8" x2="424.3" y2="652.6"/>
<text x="426.1" y="676" text-anchor="middle">820</text>
<line class="tk" style="stroke-width:2.3" x1="539.0" y1="645.8" x2="539.0" y2="652.6"/>
<text x="540.8" y="676" text-anchor="middle">1020</text>
<line class="tk" style="stroke-width:2.3" x1="653.7" y1="645.8" x2="653.7" y2="652.6"/>
<text x="655.5" y="676" text-anchor="middle">1220</text>
<line class="tk" style="stroke-width:2.3" x1="768.4" y1="645.8" x2="768.4" y2="652.6"/>
<text x="770.2" y="676" text-anchor="middle">1420</text>
<line class="tk" style="stroke-width:2.3" x1="883.1" y1="645.8" x2="883.1" y2="652.6"/>
<text x="884.9" y="676" text-anchor="middle">1620</text>
<line class="tk" style="stroke-width:2.0" x1="72.2" y1="616.8" x2="80.0" y2="616.8"/>
<text x="67.2" y="625.4" text-anchor="end">0</text>
<line class="tk" style="stroke-width:2.0" x1="72.2" y1="539.7" x2="80.0" y2="539.7"/>
<text x="67.2" y="548.3" text-anchor="end">200</text>
<line class="tk" style="stroke-width:2.0" x1="72.2" y1="462.5" x2="80.0" y2="462.5"/>
<text x="67.2" y="471.1" text-anchor="end">400</text>
<line class="tk" style="stroke-width:2.0" x1="72.2" y1="385.4" x2="80.0" y2="385.4"/>
<text x="67.2" y="394.0" text-anchor="end">600</text>
<line stroke="#000" stroke-width="1.7" x1="80.0" y1="353.6" x2="80.0" y2="647.1"/>
<line stroke="#000" stroke-width="2.2" x1="940.6" y1="353.6" x2="940.6" y2="647.1"/>
<line stroke="#000" stroke-width="1.7" x1="79.2" y1="354.5" x2="941.7" y2="354.5"/>
<line stroke="#000" stroke-width="2.6" x1="79.2" y1="645.8" x2="941.7" y2="645.8"/>
<text transform="translate(18.3,500.6) rotate(-90)" text-anchor="middle">Intensity (a.u.)</text>
<text x="510" y="703.8" text-anchor="middle">Wavenumber (cm<tspan dy="-7.4" font-size="13.6px">−1</tspan><tspan dy="7.4">)</tspan></text>
<rect class="lg" x="785.6" y="363.6" width="145.6" height="63" rx="4" ry="4"/>
<line x1="793.4" y1="380" x2="832.8" y2="380" stroke="#ff00ff" stroke-width="2.6" stroke-linecap="square"/>
<line x1="793.3" y1="408.0" x2="831.6" y2="408.2" stroke="#0000ff" stroke-width="4.7" stroke-linecap="square"/>
<text x="849" y="387">GAN</text>
<text x="849" y="415.2">Original</text>
</svg></body></html>
